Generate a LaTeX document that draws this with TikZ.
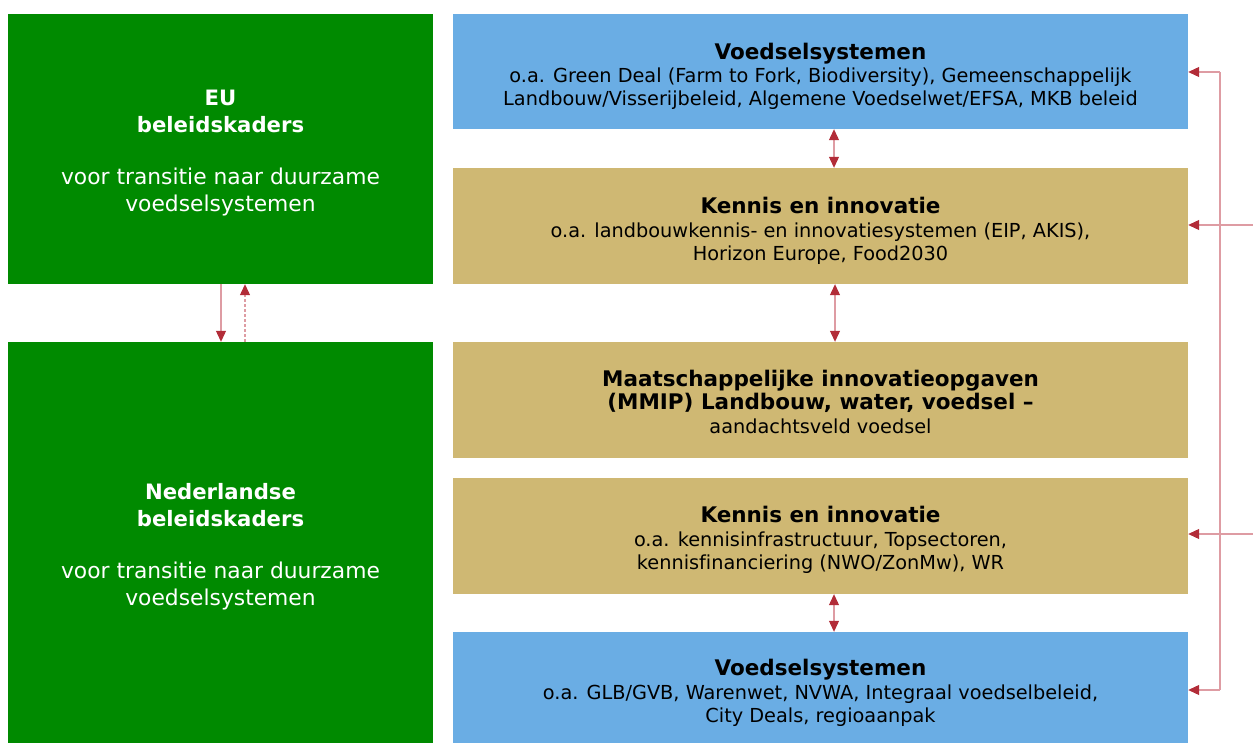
\documentclass[tikz,border=0pt]{standalone}
\usepackage{fontspec}
\setmainfont[Ligatures=NoCommon]{DejaVu Sans}
\usetikzlibrary{arrows.meta}
\definecolor{grn}{HTML}{008A00}
\definecolor{blu}{HTML}{6AADE4}
\definecolor{tan}{HTML}{CFB873}
\definecolor{arrred}{HTML}{B22C38}
\definecolor{linred}{HTML}{DE9CA3}
\tikzset{
  greenbox/.style={fill=grn, inner sep=0pt, minimum width=425pt},
  bluebox/.style={fill=blu, inner sep=0pt, minimum width=735pt},
  tanbox/.style={fill=tan, inner sep=0pt, minimum width=735pt},
  greentext/.style={inner sep=0pt, text=white, align=center, yshift=-4pt, font=\fontsize{21.8}{26.5}\selectfont},
  boxtext/.style={inner sep=0pt, text=black, align=center, yshift=-4pt, font=\fontsize{19.3}{23.2}\selectfont},
  conn/.style={draw=linred, line width=1.1pt},
  onearr/.style={conn, -{Triangle[length=11pt,width=10pt,color=arrred,fill=arrred]}},
  twoarr/.style={conn, {Triangle[length=11pt,width=10pt,color=arrred,fill=arrred]}-{Triangle[length=11pt,width=10pt,color=arrred,fill=arrred]}},
  dasharr/.style={onearr, dash pattern=on 3pt off 2pt}
}
\newcommand{\ttl}[1]{{\fontsize{21.5}{24}\selectfont\bfseries #1}}
\newcommand{\gttl}[1]{{\fontsize{21.2}{28}\selectfont\bfseries #1}}
\begin{document}
\begin{tikzpicture}[x=1pt,y=-1pt]
\useasboundingbox (0,0) rectangle (1253,743);
% green boxes
\node[greenbox, minimum height=270pt] (eu) at (220.5,149) {};
\node[greentext] (eutxt) at (eu.center)
  {\gttl{EU}\\\gttl{beleidskaders}\\[26pt]voor transitie naar duurzame\\voedselsystemen};
\node[greenbox, minimum height=401pt] (nl) at (220.5,542.5) {};
\node[greentext] (nltxt) at (nl.center)
  {\gttl{Nederlandse}\\\gttl{beleidskaders}\\[26pt]voor transitie naar duurzame\\voedselsystemen};
% right boxes
\node[bluebox, minimum height=115pt] (b1) at (820.5,71.5) {};
\node[boxtext, yshift=-1pt] (b1txt) at (b1.center)
  {\ttl{Voedselsystemen}\\o.a. Green Deal (Farm to Fork, Biodiversity), Gemeenschappelijk\\Landbouw/Visserijbeleid, Algemene Voedselwet/EFSA, MKB beleid};
\node[tanbox, minimum height=116pt] (t1) at (820.5,226) {};
\node[boxtext, yshift=-1pt] (t1txt) at (t1.center)
  {\ttl{Kennis en innovatie}\\o.a. landbouwkennis- en innovatiesystemen (EIP, AKIS),\\Horizon Europe, Food2030};
\node[tanbox, minimum height=116pt] (t2) at (820.5,400) {};
\node[boxtext, yshift=2pt] (t2txt) at (t2.center)
  {\ttl{Maatschappelijke innovatieopgaven}\\\ttl{(MMIP) Landbouw, water, voedsel –}\\[1.5pt]aandachtsveld voedsel};
\node[tanbox, minimum height=116pt] (t3) at (820.5,536) {};
\node[boxtext] (t3txt) at (t3.center)
  {\ttl{Kennis en innovatie}\\o.a. kennisinfrastructuur, Topsectoren,\\kennisfinanciering (NWO/ZonMw), WR};
\node[bluebox, minimum height=111pt] (b2) at (820.5,687.5) {};
\node[boxtext, yshift=-1.5pt] (b2txt) at (b2.center)
  {\ttl{Voedselsystemen}\\o.a. GLB/GVB, Warenwet, NVWA, Integraal voedselbeleid,\\City Deals, regioaanpak};
% vertical arrows between boxes
\draw[twoarr] ([xshift=13.5pt]b1.south) -- ([xshift=13.5pt]t1.north);
\draw[twoarr] ([xshift=14.5pt]t1.south) -- ([xshift=14.5pt]t2.north);
\draw[twoarr] ([xshift=13.5pt]t3.south) -- ([xshift=13.5pt]b2.north);
% green arrows
\draw[onearr] ([xshift=0.5pt]eu.south) -- ([xshift=0.5pt]nl.north);
\draw[dasharr] ([xshift=24.5pt]nl.north) -- ([xshift=24.5pt]eu.south);
% right side connectors
\coordinate (rtop) at (1220,72);
\coordinate (rbot) at (1220,690);
\coordinate (e1) at (1253,225);
\coordinate (e2) at (1253,534);
\draw[conn] (rtop) -- (rbot);
\draw[onearr] (rtop) -- (b1.east |- rtop);
\draw[onearr] (rbot) -- (b2.east |- rbot);
\draw[onearr] (e1) -- (t1.east |- e1);
\draw[onearr] (e2) -- (t3.east |- e2);
\end{tikzpicture}
\end{document}
